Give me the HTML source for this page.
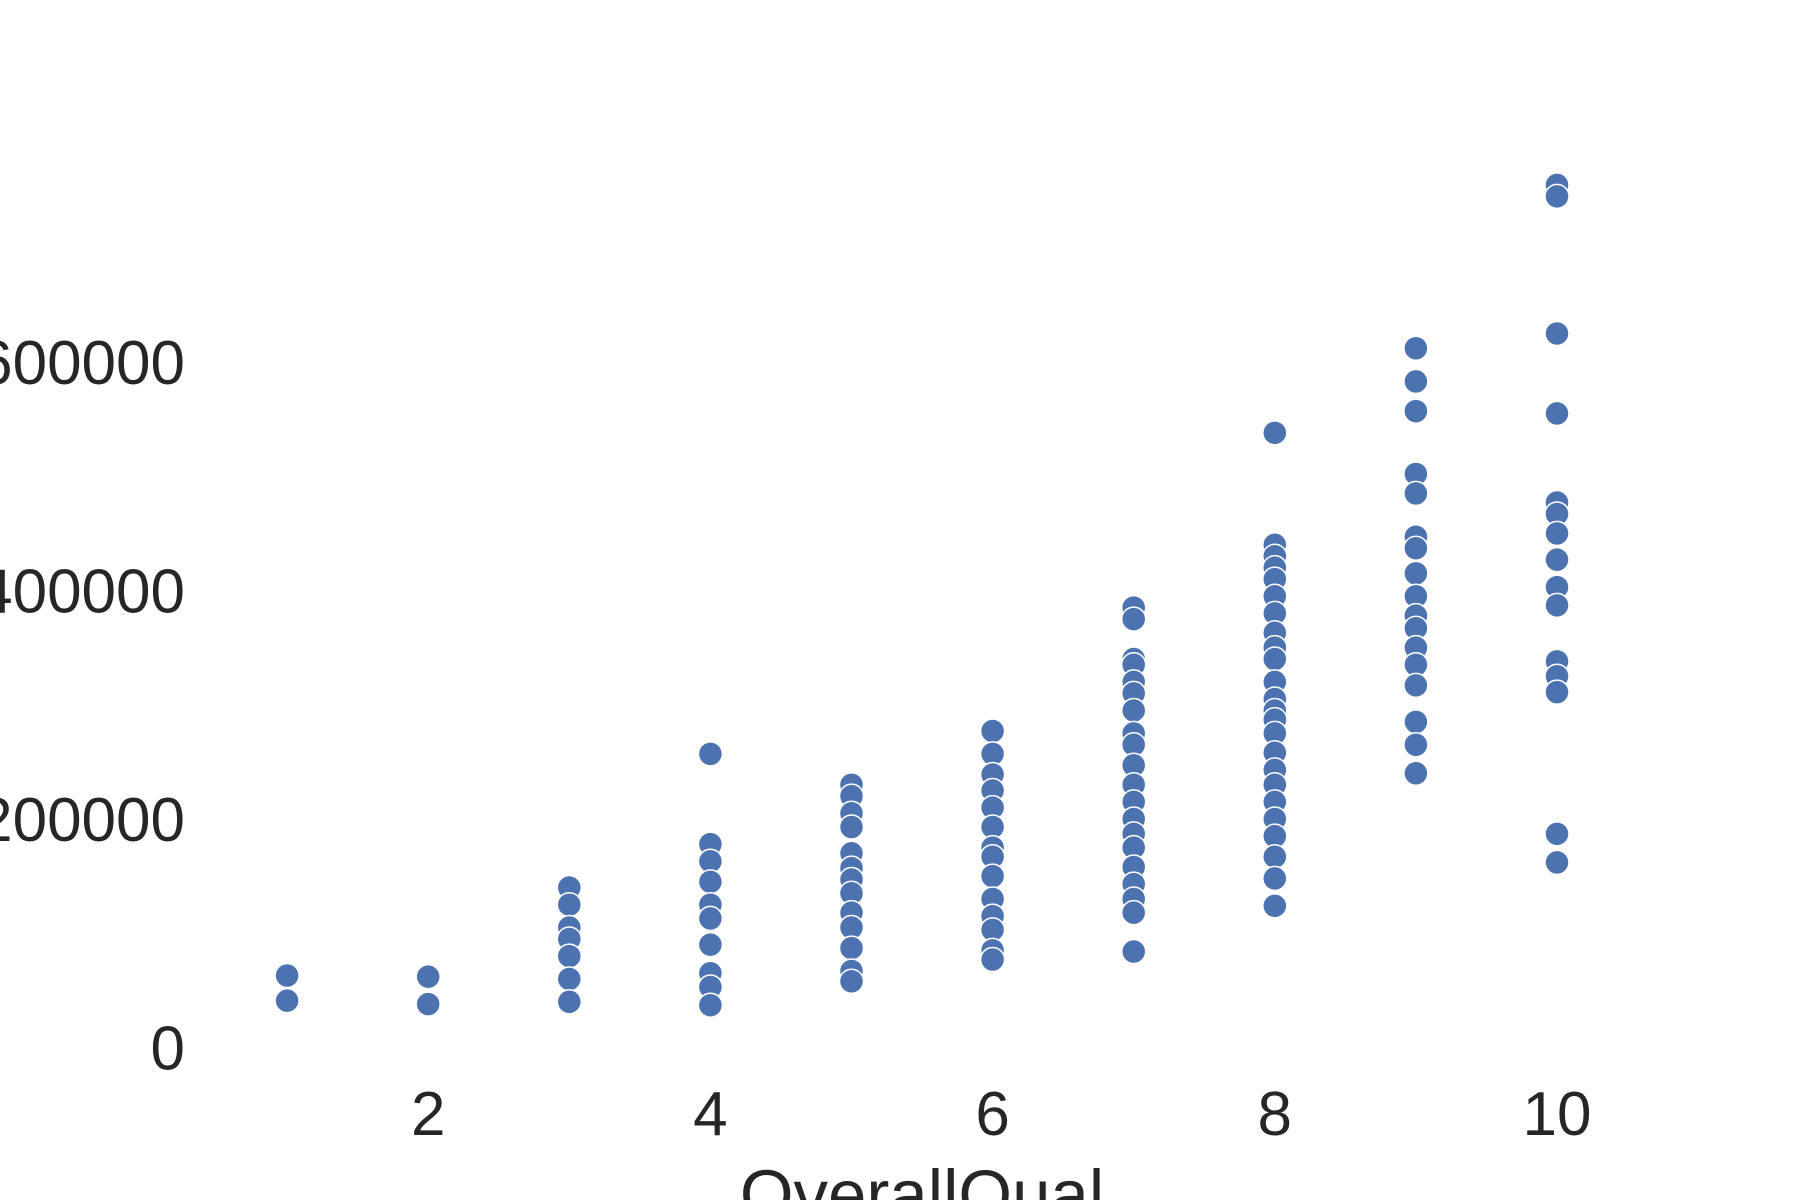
<!DOCTYPE html>
<html><head><meta charset="utf-8"><style>
html,body{margin:0;padding:0;background:#fff;overflow:hidden}
svg{display:block;font-family:"Liberation Sans",Arial,sans-serif}
</style></head><body>
<svg id="chart" width="1800" height="1200" viewBox="0 0 1800 1200">
<g id="yticks"></g>
<g id="xticks"></g>
<g id="points"></g>
<text x="922" y="1218" font-size="69" fill="#262626" text-anchor="middle">OverallQual</text>
</svg>
<script>
const xTicks=[2,4,6,8,10];
const yTicks=[0,200000,400000,600000];
const qual=[1,1,2,2,
3,3,3,3,3,3,3,
4,4,4,4,4,4,4,4,4,4,
5,5,5,5,5,5,5,5,5,5,5,5,5,
6,6,6,6,6,6,6,6,6,6,6,6,6,6,
7,7,7,7,7,7,7,7,7,7,7,7,7,7,7,7,7,7,7,7,
8,8,8,8,8,8,8,8,8,8,8,8,8,8,8,8,8,8,8,8,8,8,8,8,
9,9,9,9,9,9,9,9,9,9,9,9,9,9,9,9,9,
10,10,10,10,10,10,10,10,10,10,10,10,10,10,10];
const price=[63000,41000,62000,38000,
140000,125000,105000,95000,80000,60000,40000,
257000,178000,163000,145000,125000,113000,90000,65000,53000,37000,
230000,220000,205000,193000,170000,157000,147000,135000,118000,105000,87000,67000,58000,
277000,257000,239000,225000,210000,193000,175000,167000,150000,130000,115000,103000,85000,77000,
385000,375000,340000,335000,320000,310000,295000,275000,265000,247000,230000,215000,200000,187000,175000,158000,143000,130000,118000,84000,
538000,440000,430000,420000,410000,395000,380000,363000,350000,340000,320000,305000,295000,287000,275000,258000,243000,230000,215000,200000,185000,167000,148000,124000,
612000,583000,557000,502000,485000,447000,437000,415000,395000,378000,367000,350000,335000,317000,285000,265000,240000,
755000,745000,625000,555000,477000,467000,450000,427000,403000,387000,338000,325000,311000,187000,162000];
const NS='http://www.w3.org/2000/svg';
const xs=v=>146+v*141.1;
const ys=v=>1047.5-v*(228.5/200000);
const yg=document.getElementById('yticks'),xg=document.getElementById('xticks'),pg=document.getElementById('points');
yTicks.forEach(t=>{const e=document.createElementNS(NS,'text');


e.setAttribute('x',185);e.setAttribute('y',ys(t)+22);e.setAttribute('font-size','62');e.setAttribute('fill','#262626');e.setAttribute('text-anchor','end');e.textContent=t;yg.appendChild(e);});
xTicks.forEach(t=>{const e=document.createElementNS(NS,'text');


e.setAttribute('x',xs(t));e.setAttribute('y',1135);e.setAttribute('font-size','62');e.setAttribute('fill','#262626');e.setAttribute('text-anchor','middle');e.textContent=t;xg.appendChild(e);});
qual.forEach((q,i)=>{const c=document.createElementNS(NS,'circle');


c.setAttribute('cx',xs(q));c.setAttribute('cy',ys(price[i]));c.setAttribute('r',12);c.setAttribute('fill','#4c72b0');c.setAttribute('stroke','#fff');c.setAttribute('stroke-width','1.5');pg.appendChild(c);});
</script>
</body></html>
